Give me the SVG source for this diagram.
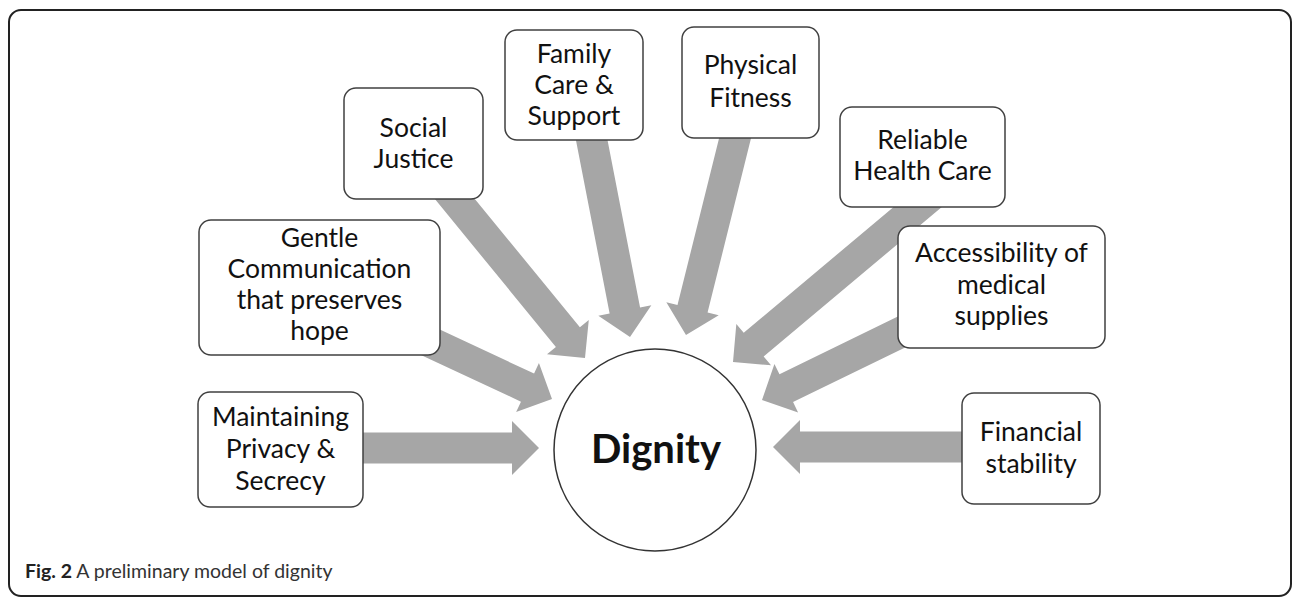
<svg xmlns="http://www.w3.org/2000/svg" width="1295" height="598" viewBox="0 0 1295 598">
<style>
.box{fill:#fff;stroke:#404040;stroke-width:1.5}
.arr{fill:#a6a6a6}
.t{font-family:Lato,"Liberation Sans",sans-serif;font-size:26.5px;fill:#111;text-anchor:middle}
.cap{font-family:Lato,"Liberation Sans",sans-serif;font-size:19.5px;fill:#333}
</style>
<rect x="9" y="10" width="1282" height="586" rx="12" fill="#fff" stroke="#222" stroke-width="2"/>
<g id="connectors">
<polygon class="arr" transform="translate(539,448) rotate(0)" points="-200,-15.5 -27,-15.5 -27,-27 0,0 -27,27 -27,15.5 -200,15.5"/>
<polygon class="arr" transform="translate(552,399) rotate(25)" points="-170,-15.5 -27,-15.5 -27,-27 0,0 -27,27 -27,15.5 -170,15.5"/>
<polygon class="arr" transform="translate(585,358) rotate(50.7)" points="-240,-15.5 -27,-15.5 -27,-27 0,0 -27,27 -27,15.5 -240,15.5"/>
<polygon class="arr" transform="translate(630,337) rotate(79)" points="-230,-15.5 -27,-15.5 -27,-27 0,0 -27,27 -27,15.5 -230,15.5"/>
<polygon class="arr" transform="translate(686,335) rotate(104)" points="-230,-15.5 -27,-15.5 -27,-27 0,0 -27,27 -27,15.5 -230,15.5"/>
<polygon class="arr" transform="translate(733,362) rotate(140)" points="-260,-15.5 -27,-15.5 -27,-27 0,0 -27,27 -27,15.5 -260,15.5"/>
<polygon class="arr" transform="translate(762,400) rotate(154)" points="-190,-15.5 -27,-15.5 -27,-27 0,0 -27,27 -27,15.5 -190,15.5"/>
<polygon class="arr" transform="translate(773,447) rotate(180)" points="-210,-15.5 -27,-15.5 -27,-27 0,0 -27,27 -27,15.5 -210,15.5"/>
</g>
<g id="dignity">
<circle cx="655" cy="450" r="101" fill="#fff" stroke="#333" stroke-width="1.5"/>
<text x="656" y="463" font-family="Lato,'Liberation Sans',sans-serif" font-size="40" font-weight="bold" fill="#111" text-anchor="middle">Dignity</text>
</g>
<g id="privacy">
<rect class="box" x="198" y="392" width="165" height="115" rx="12"/>
<text class="t" x="280.5" y="426">Maintaining</text>
<text class="t" x="280.5" y="458">Privacy &amp;</text>
<text class="t" x="280.5" y="490">Secrecy</text>
</g>
<g id="communication">
<rect class="box" x="199" y="220" width="241" height="135" rx="12"/>
<text class="t" x="319.5" y="247">Gentle</text>
<text class="t" x="319.5" y="278">Communication</text>
<text class="t" x="319.5" y="309">that preserves</text>
<text class="t" x="319.5" y="340">hope</text>
</g>
<g id="justice">
<rect class="box" x="344" y="88" width="139" height="111" rx="12"/>
<text class="t" x="413.5" y="137">Social</text>
<text class="t" x="413.5" y="168">Justice</text>
</g>
<g id="family">
<rect class="box" x="505" y="30" width="138" height="110" rx="12"/>
<text class="t" x="574" y="63">Family</text>
<text class="t" x="574" y="94">Care &amp;</text>
<text class="t" x="574" y="125">Support</text>
</g>
<g id="fitness">
<rect class="box" x="682" y="27" width="137" height="111" rx="12"/>
<text class="t" x="750.5" y="74">Physical</text>
<text class="t" x="750.5" y="107">Fitness</text>
</g>
<g id="healthcare">
<rect class="box" x="840" y="107" width="165" height="100" rx="12"/>
<text class="t" x="922.5" y="149">Reliable</text>
<text class="t" x="922.5" y="180">Health Care</text>
</g>
<g id="supplies">
<rect class="box" x="898" y="226" width="207" height="122" rx="12"/>
<text class="t" x="1001.5" y="262">Accessibility of</text>
<text class="t" x="1001.5" y="294">medical</text>
<text class="t" x="1001.5" y="325">supplies</text>
</g>
<g id="financial">
<rect class="box" x="962" y="393" width="138" height="111" rx="12"/>
<text class="t" x="1031" y="441">Financial</text>
<text class="t" x="1031" y="473">stability</text>
</g>
<text class="cap" x="25" y="578"><tspan font-weight="bold" fill="#222">Fig. 2</tspan> A preliminary model of dignity</text>
</svg>
